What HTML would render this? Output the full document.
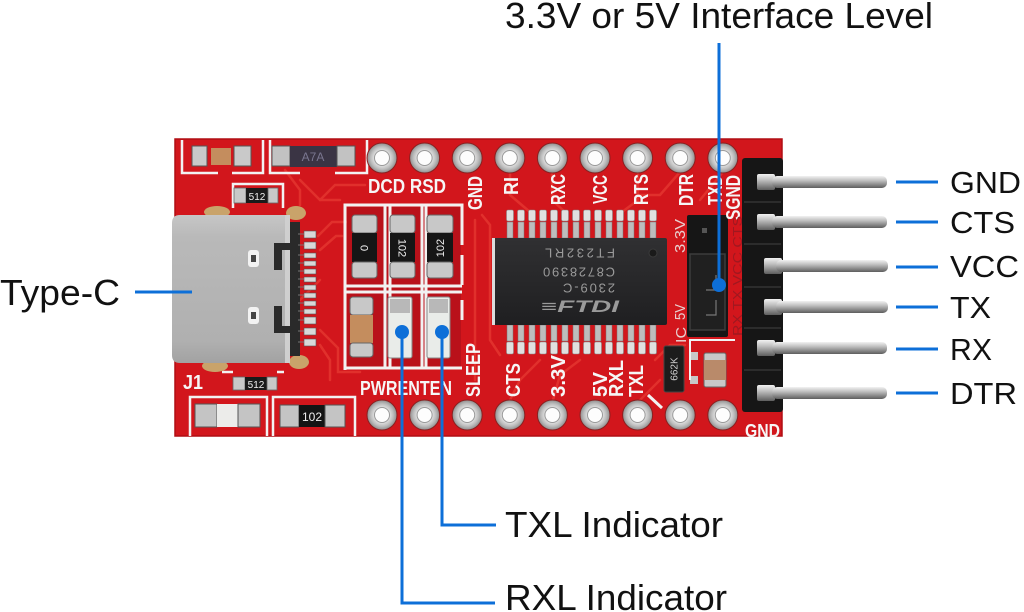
<!DOCTYPE html>
<html><head><meta charset="utf-8"><style>
html,body{margin:0;padding:0;background:#fff;}
svg{display:block;}
</style></head><body>
<svg width="1024" height="612" viewBox="0 0 1024 612" xmlns="http://www.w3.org/2000/svg" font-family="Liberation Sans, Arial, sans-serif">
<defs>
 <linearGradient id="pin" x1="0" y1="0" x2="0" y2="1">
  <stop offset="0" stop-color="#f2f2f2"/><stop offset="0.4" stop-color="#bcbcbc"/><stop offset="1" stop-color="#5e5e5e"/>
 </linearGradient>
 <linearGradient id="usb" x1="0" y1="0" x2="0" y2="1">
  <stop offset="0" stop-color="#c6c6c6"/><stop offset="0.15" stop-color="#b9b9b9"/><stop offset="0.85" stop-color="#b0b0b0"/><stop offset="1" stop-color="#a2a2a2"/>
 </linearGradient>
 <radialGradient id="ring" cx="0.5" cy="0.5" r="0.5">
  <stop offset="0.45" stop-color="#e8e8e8"/><stop offset="0.75" stop-color="#bdbdbd"/><stop offset="1" stop-color="#8e8e8e"/>
 </radialGradient>
 <linearGradient id="chip" x1="0" y1="0" x2="0" y2="1">
  <stop offset="0" stop-color="#303032"/><stop offset="1" stop-color="#1f1f21"/>
 </linearGradient>
 <g id="hole">
  <circle r="15" fill="url(#ring)" stroke="#8a2020" stroke-width="1"/>
  <circle r="7.5" fill="#fdfdfd" stroke="#999" stroke-width="1"/>
 </g>
 <g id="cpin">
  <rect x="-3.5" y="0" width="7" height="11" rx="1.5" fill="#e0e0e0" stroke="#888" stroke-width="0.6"/>
  <rect x="-3" y="12" width="6" height="16" fill="#bdbdbd" stroke="#777" stroke-width="0.5"/>
 </g>
 <g id="cpinb">
  <rect x="-3" y="0" width="6" height="16" fill="#bdbdbd" stroke="#777" stroke-width="0.5"/>
  <rect x="-3.5" y="17" width="7" height="12" rx="1.5" fill="#e0e0e0" stroke="#888" stroke-width="0.6"/>
 </g>
</defs>

<rect width="1024" height="612" fill="#fff"/>

<!-- Board -->
<rect x="175" y="139" width="607" height="297" fill="#d2161c" stroke="#b00e14" stroke-width="1.5"/>

<!-- traces -->
<g fill="none" stroke="#e4352f" stroke-width="2.5" stroke-linecap="round" opacity="0.85">
 <path d="M318 236 L332 222 L372 222"/>
 <path d="M320 250 L336 236 L342 236"/>
 <path d="M320 330 L338 348 L338 372 L360 372"/>
 <path d="M320 345 L330 360 L330 380"/>
 <path d="M300 180 L320 200 L340 200"/>
 <path d="M285 170 L300 190 L300 205"/>
 <path d="M510 172 L510 195 L530 212"/>
 <path d="M552 172 L552 200 L565 212"/>
 <path d="M638 172 L638 200 L622 212"/>
 <path d="M680 172 L660 195 L640 195"/>
 <path d="M723 172 L700 200"/>
 <path d="M475 220 L475 380"/>
 <path d="M482 215 L490 225 L490 340 L500 355"/>
 <path d="M510 400 L520 380 L540 360"/>
 <path d="M553 400 L560 375 L580 360"/>
 <path d="M655 360 L670 345 L685 345"/>
 <path d="M640 400 L660 380"/>
 <path d="M320 200 L335 185 L365 185"/>
 <path d="M300 300 L320 280"/>
</g>

<!-- top-left silkscreen -->
<g fill="none" stroke="#f2f2f2" stroke-width="2.5">
 <path d="M182 140 V173 H218"/>
 <path d="M232 173 H263 V140"/>
 <path d="M270 140 V173 H300"/>
 <path d="M335 173 H367 V140"/>
 <path d="M233 208 V184 H283 V208"/>
 <path d="M190 436 V397 H267 V436"/>
 <path d="M273 436 V397 H355 V436"/>
 <path d="M222 372 H233 M277 372 H284"/>
</g>

<!-- top-left cap -->
<rect x="192" y="146" width="15" height="20" fill="#c9c9c9" stroke="#555" stroke-width="1"/>
<rect x="211" y="148" width="20" height="17" fill="#c48d5e"/>
<rect x="234" y="146" width="17" height="20" fill="#c9c9c9" stroke="#555" stroke-width="1"/>
<!-- diode A7A -->
<rect x="272" y="146" width="18" height="20" fill="#c2c2c2" stroke="#555" stroke-width="1"/>
<rect x="290" y="146" width="47" height="21" fill="#3a3444"/>
<text x="313" y="161" font-size="12" fill="#7a7690" text-anchor="middle">A7A</text>
<rect x="337" y="146" width="18" height="20" fill="#c2c2c2" stroke="#555" stroke-width="1"/>
<!-- 512 top -->
<rect x="234" y="188" width="12" height="15" fill="#c8c8c8" stroke="#666" stroke-width="0.8"/>
<rect x="246" y="188" width="22" height="15" fill="#1a1a1a"/>
<text x="257" y="200" font-size="10" fill="#eee" text-anchor="middle">512</text>
<rect x="268" y="188" width="10" height="15" fill="#c8c8c8" stroke="#666" stroke-width="0.8"/>

<!-- USB-C tabs -->
<ellipse cx="217" cy="212" rx="13" ry="6" fill="#c9a36a"/>
<ellipse cx="296" cy="213" rx="10" ry="7" fill="#c9a36a"/>
<ellipse cx="215" cy="366" rx="13" ry="6" fill="#c9a36a"/>
<ellipse cx="299" cy="362" rx="10" ry="7" fill="#c9a36a"/>
<!-- USB-C connector -->
<rect x="289" y="222" width="11" height="134" fill="#2a2a2a"/>
<g fill="#d8d8d8" stroke="#555" stroke-width="0.6">
 <rect x="304" y="231" width="12" height="7"/><rect x="304" y="242" width="12" height="7"/>
 <rect x="304" y="253" width="12" height="5"/><rect x="304" y="261" width="12" height="5"/>
 <rect x="304" y="269" width="12" height="5"/><rect x="304" y="277" width="12" height="5"/>
 <rect x="304" y="285" width="12" height="5"/><rect x="304" y="293" width="12" height="5"/>
 <rect x="304" y="301" width="12" height="5"/><rect x="304" y="309" width="12" height="5"/>
 <rect x="304" y="317" width="12" height="7"/><rect x="304" y="328" width="12" height="7"/>
 <rect x="304" y="339" width="12" height="7"/>
</g>
<g stroke="#777" stroke-width="1">
 <line x1="298" y1="234" x2="304" y2="234"/><line x1="298" y1="245" x2="304" y2="245"/>
 <line x1="298" y1="255" x2="304" y2="255"/><line x1="298" y1="263" x2="304" y2="263"/>
 <line x1="298" y1="271" x2="304" y2="271"/><line x1="298" y1="279" x2="304" y2="279"/>
 <line x1="298" y1="287" x2="304" y2="287"/><line x1="298" y1="295" x2="304" y2="295"/>
 <line x1="298" y1="303" x2="304" y2="303"/><line x1="298" y1="311" x2="304" y2="311"/>
 <line x1="298" y1="320" x2="304" y2="320"/><line x1="298" y1="331" x2="304" y2="331"/>
 <line x1="298" y1="342" x2="304" y2="342"/>
</g>
<path d="M172 223 Q172 215 180 215 H290 V363 H180 Q172 363 172 355 Z" fill="url(#usb)"/>
<rect x="285" y="215" width="5" height="148" fill="#cfcfcf"/>
<path d="M290 243 H274 V270 H282 V250 H290 Z" fill="#2a2a2a"/>
<path d="M290 333 H274 V306 H282 V326 H290 Z" fill="#2a2a2a"/>
<rect x="248" y="250" width="11" height="17" rx="3" fill="#f2f2f2"/>
<rect x="251" y="255" width="5" height="7" fill="#444"/>
<rect x="248" y="307" width="11" height="17" rx="3" fill="#f2f2f2"/>
<rect x="251" y="312" width="5" height="7" fill="#444"/>

<!-- LED grid -->
<rect x="347" y="207" width="114" height="160" fill="#b9111a"/>
<g fill="none" stroke="#f2f2f2" stroke-width="3">
 <path d="M345 370 V205 H462 V245"/>
 <path d="M462 255 V285"/>
 <path d="M345 286 H462"/>
 <path d="M345 292 H462"/>
 <path d="M385 205 V368"/>
 <path d="M390 205 V368"/>
 <path d="M422 205 V368"/>
 <path d="M426 205 V368"/>
 <path d="M345 368 H462"/>
 <path d="M462 300 V320"/>
</g>
<!-- top row resistors -->
<g>
 <rect x="352" y="215" width="25" height="18" rx="3" fill="#c8c8c8" stroke="#666"/>
 <rect x="352" y="233" width="25" height="29" fill="#161616"/>
 <rect x="352" y="262" width="25" height="16" rx="3" fill="#c8c8c8" stroke="#666"/>
 <text x="364.5" y="248" font-size="11" fill="#f0f0f0" text-anchor="middle" transform="rotate(90 364.5 248)" dy="4">0</text>
 <rect x="390" y="215" width="25" height="18" rx="3" fill="#c8c8c8" stroke="#666"/>
 <rect x="390" y="233" width="25" height="29" fill="#161616"/>
 <rect x="390" y="262" width="25" height="16" rx="3" fill="#c8c8c8" stroke="#666"/>
 <text x="402.5" y="248" font-size="11" fill="#f0f0f0" text-anchor="middle" transform="rotate(90 402.5 248)" dy="4">102</text>
 <rect x="427" y="215" width="26" height="18" rx="3" fill="#c8c8c8" stroke="#666"/>
 <rect x="427" y="233" width="26" height="29" fill="#161616"/>
 <rect x="427" y="262" width="26" height="16" rx="3" fill="#c8c8c8" stroke="#666"/>
 <text x="440" y="248" font-size="11" fill="#f0f0f0" text-anchor="middle" transform="rotate(-90 440 248)" dy="4">102</text>
</g>
<!-- bottom row -->
<rect x="350" y="297" width="23" height="18" rx="3" fill="#c8c8c8" stroke="#666"/>
<rect x="350" y="315" width="23" height="28" fill="#c48d5e"/>
<rect x="350" y="343" width="23" height="14" rx="3" fill="#c8c8c8" stroke="#666"/>
<rect x="388" y="297" width="24" height="61" rx="2" fill="#e9ece9" stroke="#888"/>
<rect x="390" y="299" width="20" height="14" fill="#b8b8b8"/>
<rect x="427" y="297" width="23" height="61" rx="2" fill="#e9ece9" stroke="#888"/>
<rect x="429" y="299" width="19" height="14" fill="#b8b8b8"/>

<!-- holes -->
<use href="#hole" x="382" y="158"/><use href="#hole" x="424.6" y="158"/><use href="#hole" x="467.2" y="158"/>
<use href="#hole" x="509.8" y="158"/><use href="#hole" x="552.4" y="158"/><use href="#hole" x="595" y="158"/>
<use href="#hole" x="637.6" y="158"/><use href="#hole" x="680.2" y="158"/><use href="#hole" x="722.8" y="158"/>
<use href="#hole" x="382" y="415"/><use href="#hole" x="424.6" y="415"/><use href="#hole" x="467.2" y="415"/>
<use href="#hole" x="509.8" y="415"/><use href="#hole" x="552.4" y="415"/><use href="#hole" x="595" y="415"/>
<use href="#hole" x="637.6" y="415"/><use href="#hole" x="680.2" y="415"/><use href="#hole" x="722.8" y="415"/>

<!-- chip pins -->
<g>
 <use href="#cpin" x="510" y="210"/><use href="#cpin" x="521" y="210"/><use href="#cpin" x="532" y="210"/>
 <use href="#cpin" x="543" y="210"/><use href="#cpin" x="554" y="210"/><use href="#cpin" x="565" y="210"/>
 <use href="#cpin" x="576" y="210"/><use href="#cpin" x="587" y="210"/><use href="#cpin" x="598" y="210"/>
 <use href="#cpin" x="609" y="210"/><use href="#cpin" x="620" y="210"/><use href="#cpin" x="631" y="210"/>
 <use href="#cpin" x="642" y="210"/><use href="#cpin" x="653" y="210"/>
 <use href="#cpinb" x="510" y="325"/><use href="#cpinb" x="521" y="325"/><use href="#cpinb" x="532" y="325"/>
 <use href="#cpinb" x="543" y="325"/><use href="#cpinb" x="554" y="325"/><use href="#cpinb" x="565" y="325"/>
 <use href="#cpinb" x="576" y="325"/><use href="#cpinb" x="587" y="325"/><use href="#cpinb" x="598" y="325"/>
 <use href="#cpinb" x="609" y="325"/><use href="#cpinb" x="620" y="325"/><use href="#cpinb" x="631" y="325"/>
 <use href="#cpinb" x="642" y="325"/><use href="#cpinb" x="653" y="325"/>
</g>
<!-- chip body -->
<rect x="492" y="238" width="175" height="87" rx="2" fill="url(#chip)"/>
<rect x="492" y="238" width="3" height="87" fill="#dcdcdc"/>
<circle cx="653" cy="253" r="4" fill="#1a1a1a" stroke="#3a3a3a"/>
<g fill="#9a9a9a" font-size="13" text-anchor="middle">
 <text x="580" y="257.5" transform="rotate(180 580 253)" textLength="70">FT232RL</text>
 <text x="579" y="276.5" transform="rotate(180 579 272)" textLength="72">C8728390</text>
 <text x="589" y="292.5" transform="rotate(180 589 288)" textLength="52">2309-C</text>
 <text x="580" y="312" font-size="17" font-weight="bold" font-style="italic" textLength="78" lengthAdjust="spacingAndGlyphs">≡FTDI</text>
</g>

<!-- jumper -->
<rect x="687" y="215" width="41" height="122" rx="2" fill="#161616"/>
<rect x="690" y="254" width="35" height="76" fill="#202020" stroke="#3c3c3c" stroke-width="1.5"/>
<rect x="702" y="228" width="5" height="5" fill="#555"/>
<path d="M706 290 H716 V275" fill="none" stroke="#777" stroke-width="1.2"/>
<path d="M706 315 H716 V300" fill="none" stroke="#777" stroke-width="1.2"/>
<!-- 662K resistor -->
<rect x="664" y="346" width="20" height="46" rx="2" fill="#1c1c1c" stroke="#444"/>
<text x="674" y="369" font-size="10" fill="#ccc" text-anchor="middle" transform="rotate(-90 674 369)" dy="3.5">662K</text>
<rect x="690" y="352" width="8" height="8" fill="#c8c8c8"/>
<rect x="690" y="376" width="8" height="8" fill="#c8c8c8"/>
<!-- small cap -->
<rect x="704" y="353" width="22" height="34" rx="2" fill="#c8c8c8" stroke="#666"/>
<rect x="704" y="360" width="22" height="20" fill="#b98a6a"/>
<path d="M648 395 L662 408" stroke="#f2f2f2" stroke-width="3"/>
<path d="M690 380 V340 H735" fill="none" stroke="#f2f2f2" stroke-width="2"/>

<!-- bottom-left components -->
<rect x="233" y="377" width="12" height="13" fill="#c8c8c8" stroke="#666" stroke-width="0.8"/>
<rect x="245" y="377" width="22" height="13" fill="#1a1a1a"/>
<text x="256" y="388" font-size="10" fill="#eee" text-anchor="middle">512</text>
<rect x="267" y="377" width="10" height="13" fill="#c8c8c8" stroke="#666" stroke-width="0.8"/>
<rect x="195" y="404" width="22" height="23" fill="#c4c4c4" stroke="#555"/>
<rect x="217" y="404" width="21" height="23" fill="#ececea"/>
<rect x="238" y="404" width="22" height="23" fill="#c4c4c4" stroke="#555"/>
<rect x="280" y="405" width="19" height="22" fill="#c4c4c4" stroke="#555"/>
<rect x="299" y="405" width="26" height="22" fill="#141414"/>
<text x="312" y="421" font-size="12" fill="#f0f0f0" text-anchor="middle">102</text>
<rect x="325" y="405" width="20" height="22" fill="#c4c4c4" stroke="#555"/>

<!-- header -->
<rect x="742" y="158" width="41" height="254" rx="3" fill="#161616"/>
<g fill="#2c2c2c">
 <rect x="744" y="201" width="37" height="2"/><rect x="744" y="243" width="37" height="2"/>
 <rect x="744" y="286" width="37" height="2"/><rect x="744" y="327" width="37" height="2"/>
 <rect x="744" y="369" width="37" height="2"/>
</g>
<g>
 <rect x="757" y="174" width="18" height="16" rx="2" fill="url(#pin)"/>
 <rect x="772" y="176" width="115" height="12" rx="5" fill="url(#pin)"/>
 <rect x="757" y="214" width="18" height="16" rx="2" fill="url(#pin)"/>
 <rect x="772" y="216" width="115" height="12" rx="5" fill="url(#pin)"/>
 <rect x="764" y="258" width="18" height="16" rx="2" fill="url(#pin)"/>
 <rect x="776" y="260" width="112" height="12" rx="5" fill="url(#pin)"/>
 <rect x="764" y="299" width="18" height="16" rx="2" fill="url(#pin)"/>
 <rect x="776" y="301" width="112" height="12" rx="5" fill="url(#pin)"/>
 <rect x="757" y="340" width="18" height="16" rx="2" fill="url(#pin)"/>
 <rect x="772" y="342" width="115" height="12" rx="5" fill="url(#pin)"/>
 <rect x="757" y="385" width="18" height="16" rx="2" fill="url(#pin)"/>
 <rect x="772" y="387" width="115" height="12" rx="5" fill="url(#pin)"/>
</g>

<!-- silkscreen labels -->
<g fill="#f6f6f6" font-weight="bold" font-size="20" lengthAdjust="spacingAndGlyphs">
 <text x="368" y="193" textLength="78" lengthAdjust="spacingAndGlyphs">DCD RSD</text>
 <text x="360" y="395" textLength="92" lengthAdjust="spacingAndGlyphs">PWRENTEN</text>
 <text x="183" y="389" textLength="20" lengthAdjust="spacingAndGlyphs">J1</text>
 <text x="745" y="437" font-size="18" textLength="35" lengthAdjust="spacingAndGlyphs">GND</text>
 <!-- top vertical -->
 <text transform="translate(482 210) rotate(-90)" textLength="34" lengthAdjust="spacingAndGlyphs">GND</text>
 <text transform="translate(518 195) rotate(-90)" textLength="18" lengthAdjust="spacingAndGlyphs">RI</text>
 <text transform="translate(565 205) rotate(-90)" textLength="31" lengthAdjust="spacingAndGlyphs">RXC</text>
 <text transform="translate(607 204) rotate(-90)" textLength="29" lengthAdjust="spacingAndGlyphs">VCC</text>
 <text transform="translate(648 205) rotate(-90)" textLength="31" lengthAdjust="spacingAndGlyphs">RTS</text>
 <text transform="translate(693 206) rotate(-90)" textLength="32" lengthAdjust="spacingAndGlyphs">DTR</text>
 <text transform="translate(722 205) rotate(-90)" textLength="30" lengthAdjust="spacingAndGlyphs">TXD</text>
 <text transform="translate(740 220) rotate(-90)" textLength="45" lengthAdjust="spacingAndGlyphs">SGND</text>
 <!-- bottom vertical -->
 <text transform="translate(480 397) rotate(-90)" textLength="54" lengthAdjust="spacingAndGlyphs">SLEEP</text>
 <text transform="translate(520 397) rotate(-90)" textLength="34" lengthAdjust="spacingAndGlyphs">CTS</text>
 <text transform="translate(565 397) rotate(-90)" textLength="42" lengthAdjust="spacingAndGlyphs">3.3V</text>
 <text transform="translate(607 397) rotate(-90)" textLength="25" lengthAdjust="spacingAndGlyphs">5V</text>
 <text transform="translate(623 397) rotate(-90)" textLength="37" lengthAdjust="spacingAndGlyphs">RXL</text>
 <text transform="translate(643 397) rotate(-90)" textLength="32" lengthAdjust="spacingAndGlyphs">TXL</text>
</g>
<g fill="#e8d0d0" font-size="15">
 <text transform="translate(685 253) rotate(-90)" textLength="34" lengthAdjust="spacingAndGlyphs">3.3V</text>
 <text transform="translate(685 320) rotate(-90)" textLength="16" lengthAdjust="spacingAndGlyphs">5V</text>
 <text transform="translate(686 343) rotate(-90)" textLength="16" lengthAdjust="spacingAndGlyphs">IC</text>
</g>
<g fill="#a01820" font-size="13">
 <text transform="translate(742 336) rotate(-90)" textLength="120" lengthAdjust="spacingAndGlyphs">RX TX VCC CTS</text>
</g>

<!-- annotations -->
<g stroke="#0d6fd8" stroke-width="3" fill="none">
 <line x1="719" y1="43" x2="719" y2="285"/>
 <line x1="135" y1="292" x2="192" y2="292"/>
 <path d="M402 332 V603 H495"/>
 <path d="M442 332 V525 H496"/>
 <line x1="896" y1="182" x2="938" y2="182"/>
 <line x1="896" y1="222" x2="938" y2="222"/>
 <line x1="896" y1="267" x2="938" y2="267"/>
 <line x1="896" y1="307" x2="938" y2="307"/>
 <line x1="896" y1="349" x2="938" y2="349"/>
 <line x1="896" y1="393" x2="938" y2="393"/>
</g>
<g fill="#0d6fd8">
 <circle cx="719" cy="285" r="7"/>
 <circle cx="402" cy="332" r="7"/>
 <circle cx="442" cy="332" r="7"/>
</g>

<g fill="#111" font-size="36">
 <text x="505" y="28" textLength="428" lengthAdjust="spacingAndGlyphs">3.3V or 5V Interface Level</text>
 <text x="0" y="305" textLength="120" lengthAdjust="spacingAndGlyphs">Type-C</text>
 <text x="505" y="537" textLength="218" lengthAdjust="spacingAndGlyphs">TXL Indicator</text>
 <text x="505" y="610" textLength="222" lengthAdjust="spacingAndGlyphs">RXL Indicator</text>
</g>
<g fill="#111" font-size="31">
 <text x="950" y="193" textLength="71" lengthAdjust="spacingAndGlyphs">GND</text>
 <text x="950" y="233" textLength="65" lengthAdjust="spacingAndGlyphs">CTS</text>
 <text x="950" y="277" textLength="69" lengthAdjust="spacingAndGlyphs">VCC</text>
 <text x="950" y="318" textLength="41" lengthAdjust="spacingAndGlyphs">TX</text>
 <text x="950" y="360" textLength="42" lengthAdjust="spacingAndGlyphs">RX</text>
 <text x="950" y="404" textLength="67" lengthAdjust="spacingAndGlyphs">DTR</text>
</g>
</svg>
</body></html>
